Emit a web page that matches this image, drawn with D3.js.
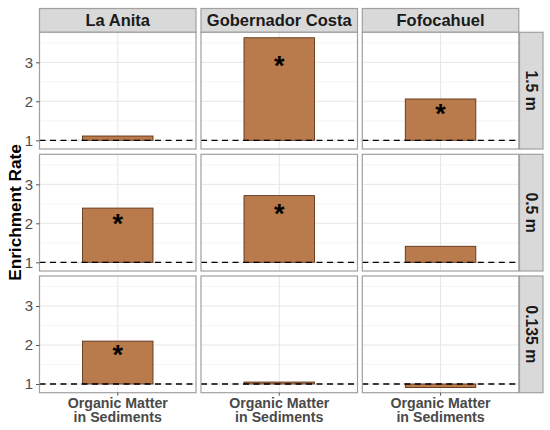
<!DOCTYPE html>
<html>
<head>
<meta charset="utf-8">
<script src="https://cdn.jsdelivr.net/npm/d3@7"></script>
<style>
  body { margin: 0; background: #fff; }
  svg { display: block; font-family: "Liberation Sans", Arial, sans-serif; }
</style>
</head>
<body>
<div id="chart"></div>
<script>
// ---- data ----
const sites = ["La Anita", "Gobernador Costa", "Fofocahuel"];
const depths = ["1.5 m", "0.5 m", "0.135 m"];
const category = ["Organic Matter", "in Sediments"];
// enrichment rate per depth row (order of sites)
const values = [
  [1.11, 3.63, 2.06],   // 1.5 m
  [2.39, 2.71, 1.41],   // 0.5 m
  [2.10, 1.05, 0.91]    // 0.135 m
];
// asterisk positions (null = not significant)
const starY = [
  [null, 3.08, 1.85],
  [2.15, 2.40, null],
  [1.90, null, null]
];
const yTicks = [1, 2, 3];
const yMinor = [1.5, 2.5, 3.5];
const baseline = 1;

// ---- layout ----
const W = 550, H = 430;
const svg = d3.select("#chart").append("svg").attr("width", W).attr("height", H);

const colX = [39.5, 201, 362.3];
const panelW = 156.5;
const rowY = [32.3, 154.3, 276];
const panelH = 116.7;
const stripTop = 8.5;
const stripR = { x: 519.5, w: 23.5 };

const y = d3.scaleLinear().domain([0.777, 3.77]).range([panelH, 0]);
const x = d3.scaleBand().domain(["OM"]).range([0, panelW]).paddingInner(0).paddingOuter(0.61);

const gridMajor = "#e6e6e6", gridMinor = "#f2f2f2", borderCol = "#a0a0a0";

// top strips
sites.forEach((s, j) => {
  const g = svg.append("g").attr("transform", `translate(${colX[j]},${stripTop})`);
  g.append("rect").attr("width", panelW).attr("height", rowY[0] - stripTop)
    .attr("fill", "#d9d9d9").attr("stroke", borderCol).attr("stroke-width", 1.2);
  g.append("text").attr("x", panelW / 2).attr("y", (rowY[0] - stripTop) / 2 + 6)
    .attr("text-anchor", "middle").attr("font-weight", "bold").attr("font-size", 16.5)
    .attr("fill", "#1a1a1a").text(s);
});

// right strips
depths.forEach((d, i) => {
  const g = svg.append("g").attr("transform", `translate(${stripR.x},${rowY[i]})`);
  g.append("rect").attr("width", stripR.w).attr("height", panelH)
    .attr("fill", "#d9d9d9").attr("stroke", borderCol).attr("stroke-width", 1.2);
  g.append("text").attr("transform", `translate(${stripR.w / 2 - 5.6},${panelH / 2}) rotate(90)`)
    .attr("text-anchor", "middle").attr("font-weight", "bold").attr("font-size", 15.8)
    .attr("fill", "#1a1a1a").text(d);
});

// panels
depths.forEach((d, i) => {
  sites.forEach((s, j) => {
    const g = svg.append("g").attr("transform", `translate(${colX[j]},${rowY[i]})`);
    g.append("rect").attr("width", panelW).attr("height", panelH).attr("fill", "#fff");
    // minor grid
    g.selectAll(".mn").data(yMinor).enter().append("line")
      .attr("x1", 0).attr("x2", panelW).attr("y1", v => y(v)).attr("y2", v => y(v))
      .attr("stroke", gridMinor).attr("stroke-width", 0.8);
    // major grid
    g.selectAll(".mj").data(yTicks).enter().append("line")
      .attr("x1", 0).attr("x2", panelW).attr("y1", v => y(v)).attr("y2", v => y(v))
      .attr("stroke", gridMajor).attr("stroke-width", 1);
    g.append("line").attr("x1", x("OM") + x.bandwidth() / 2).attr("x2", x("OM") + x.bandwidth() / 2)
      .attr("y1", 0).attr("y2", panelH).attr("stroke", gridMajor).attr("stroke-width", 1);
    // bar
    const v = values[i][j];
    g.append("rect").attr("x", x("OM")).attr("width", x.bandwidth())
      .attr("y", y(Math.max(v, baseline))).attr("height", Math.abs(y(v) - y(baseline)))
      .attr("fill", "#b97b4c").attr("stroke", "#5e3219").attr("stroke-width", 0.9);
    // dashed baseline
    g.append("line").attr("x1", 0).attr("x2", panelW).attr("y1", y(baseline)).attr("y2", y(baseline))
      .attr("stroke", "#000").attr("stroke-width", 1.3).attr("stroke-dasharray", "6,4.5");
    // asterisk
    const sy = starY[i][j];
    if (sy !== null) {
      g.append("text").attr("x", x("OM") + x.bandwidth() / 2).attr("y", y(sy) + 0.57 * 27)
        .attr("text-anchor", "middle").attr("font-weight", "bold").attr("font-size", 27)
        .attr("fill", "#000").text("*");
    }
    // border
    g.append("rect").attr("width", panelW).attr("height", panelH).attr("fill", "none")
      .attr("stroke", borderCol).attr("stroke-width", 1.2);
    // y axis on left column
    if (j === 0) {
      const ax = g.append("g").call(d3.axisLeft(y).tickValues(yTicks).tickSize(3.5).tickPadding(3).tickFormat(d3.format("d")));
      ax.select(".domain").remove();
      ax.selectAll("line").attr("stroke", "#555");
      ax.selectAll("text").attr("font-size", 15).attr("fill", "#4d4d4d")
        .attr("font-family", "Liberation Sans, Arial, sans-serif");
    }
    // x axis on bottom row
    if (i === depths.length - 1) {
      const ax = g.append("g").attr("transform", `translate(0,${panelH})`)
        .call(d3.axisBottom(x).tickSize(3).tickFormat(""));
      ax.select(".domain").remove();
      ax.selectAll("line").attr("stroke", "#555");
      const t = g.append("text").attr("x", x("OM") + x.bandwidth() / 2).attr("y", panelH + 15)
        .attr("text-anchor", "middle").attr("font-weight", "bold").attr("font-size", 14.2)
        .attr("fill", "#4a4a4a");
      category.forEach((c, k) => {
        t.append("tspan").attr("x", x("OM") + x.bandwidth() / 2).attr("dy", k === 0 ? 0 : 14).text(c);
      });
    }
  });
});

// y axis title
svg.append("text").attr("transform", `translate(21,${(rowY[0] + rowY[2] + panelH) / 2}) rotate(-90)`)
  .attr("text-anchor", "middle").attr("font-weight", "bold").attr("font-size", 17.2)
  .attr("fill", "#000").text("Enrichment Rate");
</script>
</body>
</html>
